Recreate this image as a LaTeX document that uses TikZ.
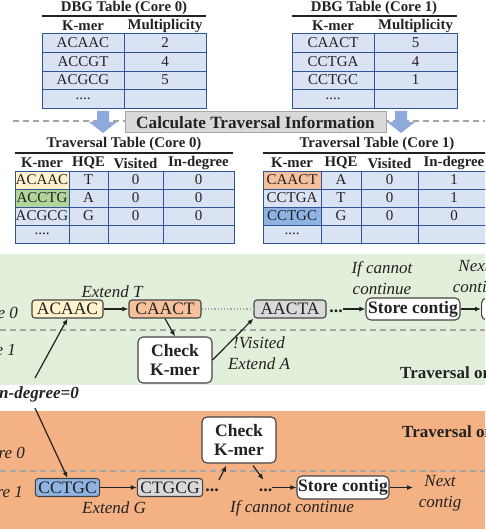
\documentclass[tikz,border=0pt]{standalone}
\usepackage{fontspec}
\setmainfont{Liberation Serif}
\usetikzlibrary{arrows.meta,calc}
\definecolor{tblue}{HTML}{DAE3F3}
\definecolor{tborder}{HTML}{2F5597}
\definecolor{cyellow}{HTML}{FFF2CC}
\definecolor{cgreen}{HTML}{B2D59A}
\definecolor{corange}{HTML}{F7C09C}
\definecolor{cblue}{HTML}{8FB4E3}
\definecolor{gbg}{HTML}{E2EFDA}
\definecolor{obg}{HTML}{F4B183}
\definecolor{ngray}{HTML}{D9D9D9}
\definecolor{txt}{HTML}{222222}
\definecolor{barrow}{HTML}{8EA9DB}
\definecolor{dline}{HTML}{A6A6A6}
\tikzset{
  tt/.style={font=\fontsize{15}{18}\selectfont, text=txt, inner sep=0},
  th/.style={font=\fontsize{14.8}{18}\selectfont\bfseries, text=txt, inner sep=0},
  tline/.style={draw=tborder, line width=0.9pt},
  rulel/.style={draw=txt, line width=1.1pt},
  kbox/.style={draw=txt!85, line width=1.1pt, rounded corners=3pt, inner xsep=3pt, inner ysep=0pt,
     minimum height=18pt, font=\fontsize{17.5}{20}\selectfont, text=txt},
  bbox/.style={draw=txt!85, line width=1.1pt, rounded corners=5pt, fill=white, inner sep=0pt,
     font=\fontsize{17.5}{20}\selectfont\bfseries, text=txt, align=center},
  lab/.style={font=\fontsize{17}{21}\selectfont\itshape, text=txt, align=center, inner sep=0},
  dots/.style={font=\fontsize{18}{20}\selectfont\bfseries, text=txt, inner sep=0, text height=11pt, text depth=4pt},
  arr/.style={-{Latex[length=6pt,width=5pt]}, line width=1.2pt, draw=txt},
  sep/.style={draw=dline, line width=1.2pt, dash pattern=on 6pt off 4pt},
}
\begin{document}
\begin{tikzpicture}[x=1pt,y=-1pt]
\useasboundingbox (0,0) rectangle (485,529);
\fill[white] (0,0) rectangle (485,529);
\clip (0,0) rectangle (485,529);

% ---------- DBG table core 0
\node[th] (t0) at (124,8) {DBG Table (Core 0)};
\draw[rulel] (42,16) -- (206,16);
\node[th] (h0a) at (83,26) {K-mer};
\node[th] (h0b) at (165,26) {Multiplicity};
\fill[tblue] (42,33) rectangle (206,108);
\draw[tline] (42,33) rectangle (206,108) (42,52)--(206,52) (42,71)--(206,71) (42,89)--(206,89) (124,33)--(124,108);
\node[tt] (d01) at (83,42.5) {ACAAC}; \node[tt] (m01) at (165,42.5) {2};
\node[tt] (d02) at (83,61.5) {ACCGT}; \node[tt] (m02) at (165,61.5) {4};
\node[tt] (d03) at (83,80) {ACGCG};   \node[tt] (m03) at (165,80) {5};
\node[tt] (d04) at (83,98.5) {....};

% ---------- DBG table core 1
\node[th] (t1) at (374,8) {DBG Table (Core 1)};
\draw[rulel] (292,16) -- (457,16);
\node[th] (h1a) at (333,26) {K-mer};
\node[th] (h1b) at (415.5,26) {Multiplicity};
\fill[tblue] (292,33) rectangle (457,108);
\draw[tline] (292,33) rectangle (457,108) (292,52)--(457,52) (292,71)--(457,71) (292,89)--(457,89) (374,33)--(374,108);
\node[tt] (d11) at (333,42.5) {CAACT}; \node[tt] (m11) at (415.5,42.5) {5};
\node[tt] (d12) at (333,61.5) {CCTGA}; \node[tt] (m12) at (415.5,61.5) {4};
\node[tt] (d13) at (333,80) {CCTGC};   \node[tt] (m13) at (415.5,80) {1};
\node[tt] (d14) at (333,98.5) {....};

% ---------- calculate bar
\draw[sep] (13,121) -- (485,121);
\fill[barrow] (97,111) -- (109,111) -- (109,122) -- (117,122) -- (103,133) -- (89,122) -- (97,122) -- cycle;
\fill[barrow] (395,111) -- (407,111) -- (407,122) -- (415,122) -- (401,133) -- (387,122) -- (395,122) -- cycle;
\node[draw=dline, fill=ngray, line width=1pt, minimum width=261pt, minimum height=21pt, inner sep=0,
      font=\fontsize{17.2}{20}\selectfont\bfseries, text=txt] (calc) at (255.5,122.5) {Calculate Traversal Information};

% ---------- traversal table core 0
\node[th] (tt0) at (124,144) {Traversal Table (Core 0)};
\draw[rulel] (15,153) -- (233,153);
\node[th] (g0a) at (42,163) {K-mer};
\node[th] (g0b) at (88.5,163) {HQE};
\node[th] (g0c) at (135.5,163) {Visited};
\node[th] (g0d) at (198.5,163) {In-degree};
\fill[tblue] (15,171) rectangle (234,243);
\fill[cyellow] (15,171) rectangle (69,189);
\fill[cgreen] (15,189) rectangle (69,207);
\draw[tline] (15,171) rectangle (234,243) (15,189)--(234,189) (15,207)--(234,207) (15,225)--(234,225)
   (69,171)--(69,243) (108,171)--(108,243) (163,171)--(163,243);
\node[tt] (r01) at (42,180) {ACAAC}; \node[tt] at (88.5,180) {T}; \node[tt] at (135.5,180) {0}; \node[tt] at (198.5,180) {0};
\node[tt] (r02) at (42,198) {ACCTG}; \node[tt] at (88.5,198) {A}; \node[tt] at (135.5,198) {0}; \node[tt] at (198.5,198) {0};
\node[tt] (r03) at (42,216) {ACGCG}; \node[tt] at (88.5,216) {G}; \node[tt] at (135.5,216) {0}; \node[tt] at (198.5,216) {0};
\node[tt] (r04) at (42,234) {....};

% ---------- traversal table core 1
\node[th] (tt1) at (377,144) {Traversal Table (Core 1)};
\draw[rulel] (263,153) -- (490,153);
\node[th] (g1a) at (292,163) {K-mer};
\node[th] (g1b) at (341,163) {HQE};
\node[th] (g1c) at (389.5,163) {Visited};
\node[th] (g1d) at (454,163) {In-degree};
\fill[tblue] (263,171) rectangle (490,243);
\fill[corange] (263,171) rectangle (321,189);
\fill[cblue] (263,207) rectangle (321,225);
\draw[tline] (263,171) rectangle (490,243) (263,189)--(490,189) (263,207)--(490,207) (263,225)--(490,225)
   (321,171)--(321,243) (361,171)--(361,243) (418,171)--(418,243);
\node[tt] (s11) at (292,180) {CAACT}; \node[tt] at (341,180) {A}; \node[tt] at (389.5,180) {0}; \node[tt] at (454,180) {1};
\node[tt] (s12) at (292,198) {CCTGA}; \node[tt] at (341,198) {T}; \node[tt] at (389.5,198) {0}; \node[tt] at (454,198) {1};
\node[tt] (s13) at (292,216) {CCTGC}; \node[tt] at (341,216) {G}; \node[tt] at (389.5,216) {0}; \node[tt] at (454,216) {0};
\node[tt] (s14) at (292,234) {....};

% ---------- backgrounds
\fill[gbg] (0,254) rectangle (485,385);
\fill[obg] (0,411) rectangle (485,529);
\draw[sep] (0,330) -- (485,330);
\draw[sep] (0,471) -- (485,471);

% ---------- green region (core 0 traversal)
\node[lab, anchor=east] (gc0) at (18,313) {Core 0};
\node[lab, anchor=east] (gc1) at (16,350) {Core 1};
\node[kbox, fill=cyellow, minimum width=71pt] (acaac) at (67.5,309) {ACAAC};
\node[kbox, fill=corange, minimum width=72pt] (caact) at (165,309) {CAACT};
\node[kbox, fill=ngray, minimum width=72pt] (aacta) at (290,309) {AACTA};
\node[dots] (dots1) at (336,309) {...};
\node[bbox, minimum width=94pt, minimum height=22pt] (store1) at (413,309) {Store contig};
\node[bbox, minimum width=60pt, minimum height=22pt, anchor=west] (nextbox) at (481,309) {};
\node[bbox, minimum width=74pt, minimum height=46pt, inner sep=0pt] (check1) at (175,360) {Check\\[-1pt]K-mer};
\node[lab] (ext) at (112,292) {Extend T};
\node[lab] (ifc1) at (382,278.5) {If cannot\\continue};
\node[lab] (nxt1) at (474,278.5) {Next\\contig};
\node[lab] (vis) at (259,353) {!Visited\\Extend A};
\node[font=\fontsize{17}{20}\selectfont\bfseries, text=txt, anchor=west, inner sep=0] (trav0) at (400,373) {Traversal on Core 0};

\draw[arr] (acaac) -- (caact);
\draw[draw=dline, line width=1.2pt, dotted] (caact) -- (aacta);
\draw[arr] (caact.south) -- (check1.north);
\draw[arr] (check1.east) -- (aacta.south west);
\draw[arr] (dots1) -- (store1);
\draw[arr] (store1) -- (nextbox);

% ---------- in-degree label
\node[font=\fontsize{17}{20}\selectfont\bfseries\itshape, text=txt, anchor=east, inner sep=0] (indeg) at (79,394) {In-degree=0};
\coordinate (a1) at (35,378);
\coordinate (a2) at (35,408);

% ---------- orange region (core 1 traversal)
\node[lab, anchor=east] (oc0) at (25,453) {Core 0};
\node[lab, anchor=east] (oc1) at (23,492) {Core 1};
\node[kbox, fill=cblue, minimum width=63pt] (cctgc) at (67.5,487.5) {CCTGC};
\node[kbox, fill=ngray, minimum width=64pt] (ctgcg) at (170,487.5) {CTGCG};
\node[dots] (dots2) at (212,487.5) {...};
\node[bbox, minimum width=74pt, minimum height=46pt] (check2) at (239,440) {Check\\[-1pt]K-mer};
\node[dots] (dots3) at (265.5,487.5) {...};
\node[bbox, minimum width=92pt, minimum height=23pt] (store2) at (343,487.5) {Store contig};
\coordinate (nxtc) at (413,487.5);
\node[lab] (nxt2) at (440,493) {Next\\contig};
\node[lab] (extg) at (114,508) {Extend G};
\node[lab] (ifc2) at (292,508) {If cannot continue};
\node[font=\fontsize{17}{20}\selectfont\bfseries, text=txt, anchor=west, inner sep=0] (trav1) at (402,432) {Traversal on Core 1};

\draw[arr] (cctgc) -- (ctgcg);
\draw[arr] (dots2.north east) -- ($(check2.south west)+(25,2)$);
\draw[arr] ($(check2.south)+(14,2)$) -- ($(dots3.north)+(-2,0)$);
\draw[arr] (dots3) -- (store2);
\draw[arr] (store2) -- (nxtc);

\draw[arr] (a1) -- (acaac.south);
\draw[arr] (a2) -- (cctgc.north);
\end{tikzpicture}
\end{document}
